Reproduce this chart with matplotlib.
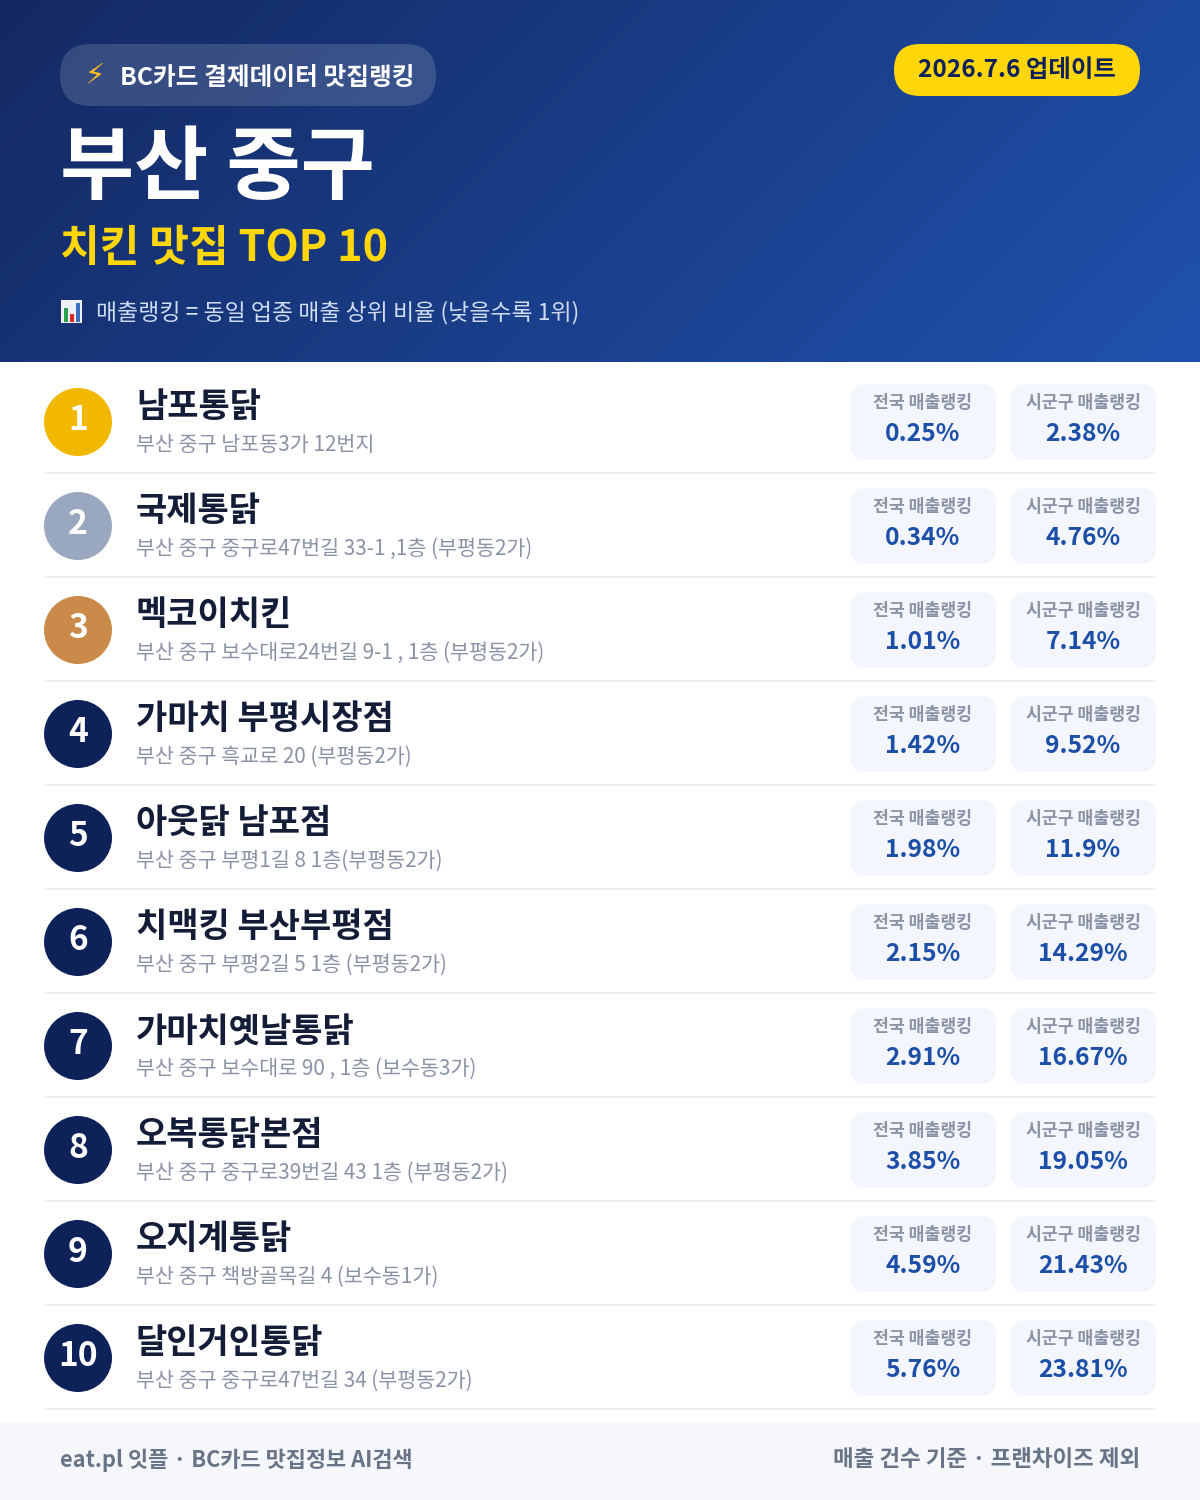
#!/usr/bin/env python3
# -*- coding: utf-8 -*-
import numpy as np
import matplotlib
matplotlib.use('Agg')
import matplotlib.pyplot as plt
from matplotlib.patches import FancyBboxPatch, Circle, Rectangle

plt.rcParams['font.family'] = ['Noto Sans CJK KR', 'DejaVu Sans']

ranks = list(range(1, 11))
names = ['남포통닭', '국제통닭', '멕코이치킨', '가마치 부평시장점', '아웃닭 남포점',
         '치맥킹 부산부평점', '가마치옛날통닭', '오복통닭본점', '오지계통닭', '달인거인통닭']
addresses = ['부산 중구 남포동3가 12번지',
             '부산 중구 중구로47번길 33-1 ,1층 (부평동2가)',
             '부산 중구 보수대로24번길 9-1 , 1층 (부평동2가)',
             '부산 중구 흑교로 20 (부평동2가)',
             '부산 중구 부평1길 8 1층(부평동2가)',
             '부산 중구 부평2길 5 1층 (부평동2가)',
             '부산 중구 보수대로 90 , 1층 (보수동3가)',
             '부산 중구 중구로39번길 43 1층 (부평동2가)',
             '부산 중구 책방골목길 4 (보수동1가)',
             '부산 중구 중구로47번길 34 (부평동2가)']
national = ['0.25%', '0.34%', '1.01%', '1.42%', '1.98%', '2.15%', '2.91%', '3.85%', '4.59%', '5.76%']
district = ['2.38%', '4.76%', '7.14%', '9.52%', '11.9%', '14.29%', '16.67%', '19.05%', '21.43%', '23.81%']

NAVY = '#0f2159'
BLUE = '#1e4fa8'
YELLOW = '#ffd60a'
medal = {1: '#f2b800', 2: '#9aa8bf', 3: '#c98a4a'}


def px(size):
    # font size given in image pixels
    return size * 0.72


def rounded(ax, x, y, w, h, r, **kw):
    p = FancyBboxPatch((x + r, y + r), w - 2 * r, h - 2 * r,
                       boxstyle=f'round,pad={r},rounding_size={r}', lw=0, **kw)
    ax.add_patch(p)
    return p


fig = plt.figure(figsize=(12, 15), dpi=100, facecolor='white')
ax = fig.add_axes([0, 0, 1, 1])
ax.set_xlim(0, 1200)
ax.set_ylim(1500, 0)
ax.axis('off')

# header gradient
gx, gy = np.meshgrid(np.linspace(0, 1, 300), np.linspace(0, 1, 90))
t = gx * 0.77 + gy * 0.23
c0 = np.array([0x14, 0x29, 0x62]) / 255
c1 = np.array([0x1f, 0x52, 0xae]) / 255
grad = c0[None, None, :] + t[:, :, None] * (c1 - c0)[None, None, :]
ax.imshow(grad, extent=(0, 1200, 362, 0), aspect='auto', interpolation='bilinear', zorder=0)
ax.set_xlim(0, 1200)
ax.set_ylim(1500, 0)

# header pills
rounded(ax, 60, 44, 376, 62, 31, facecolor='white', alpha=0.15, zorder=1)
ax.text(95, 76, '⚡', fontsize=px(29), color='#ffbf24', ha='center', va='center',
        family='DejaVu Sans', zorder=2)
ax.text(120, 78, 'BC카드 결제데이터 맛집랭킹', fontsize=px(24.7), color='white',
        fontweight='bold', ha='left', va='center', zorder=2)
rounded(ax, 894, 44, 246, 52, 26, facecolor=YELLOW, zorder=1)
ax.text(1017, 70, '2026.7.6 업데이트', fontsize=px(24.4), color=NAVY,
        fontweight='bold', ha='center', va='center', zorder=2)

ax.text(60, 169, '부산 중구', fontsize=px(80.6), color='white', fontweight='bold',
        ha='left', va='center', zorder=2)
ax.text(60, 248, '치킨 맛집 TOP 10', fontsize=px(43.2), color=YELLOW, fontweight='bold',
        ha='left', va='center', zorder=2)

# little bar chart icon next to the note
ax.add_patch(Rectangle((61, 300), 21, 23, facecolor='#eef2f6', lw=0, zorder=2))
ax.add_patch(Rectangle((64, 308), 4, 14, facecolor='#2e9e4f', lw=0, zorder=3))
ax.add_patch(Rectangle((70, 314), 4, 8, facecolor='#d8262c', lw=0, zorder=3))
ax.add_patch(Rectangle((76, 303), 4, 19, facecolor='#3a6fc0', lw=0, zorder=3))
ax.text(96, 313, '매출랭킹 = 동일 업종 매출 상위 비율 (낮을수록 1위)', fontsize=px(22.9),
        color='#cfdcf3', ha='left', va='center', zorder=2)

# ranking rows
ROW_H = 104
for i, rank in enumerate(ranks):
    top = 370 + i * ROW_H
    ax.add_patch(Circle((78, top + 52), 34, facecolor=medal.get(rank, NAVY), lw=0, zorder=2))
    ax.text(78, top + 51, str(rank), fontsize=px(33.5), color='white', fontweight='bold',
            ha='center', va='center', zorder=3)
    ax.text(136, top + 37, names[i], fontsize=px(34), color='#141d38', fontweight='bold',
            ha='left', va='center', zorder=2)
    ax.text(136, top + 75, addresses[i], fontsize=px(20.7), color='#8a93a6',
            ha='left', va='center', zorder=2)

    for bx, label, val in ((850, '전국 매출랭킹', national[i]), (1010, '시군구 매출랭킹', district[i])):
        rounded(ax, bx, top + 14, 146, 76, 16, facecolor='#f3f6fc', zorder=1)
        ax.text(bx + 73, top + 33, label, fontsize=px(17.2), color='#8a93a6',
                fontweight='bold', ha='center', va='center', zorder=2)
        ax.text(bx + 73, top + 64, val, fontsize=px(24.6), color=BLUE, fontweight='bold',
                ha='center', va='center', zorder=2)

    ax.add_patch(Rectangle((44, top + 102), 1112, 2, facecolor='#eceef1', lw=0, zorder=1))

# footer
ax.add_patch(Rectangle((0, 1422), 1200, 78, facecolor='#f5f7fb', lw=0, zorder=1))
ax.text(60, 1460, 'eat.pl 잇플 · BC카드 맛집정보 AI검색', fontsize=px(21.9), color='#687487',
        fontweight='bold', ha='left', va='center', zorder=2)
ax.text(1140, 1460, '매출 건수 기준 · 프랜차이즈 제외', fontsize=px(22.5), color='#687487',
        fontweight='bold', ha='right', va='center', zorder=2)

fig.savefig('out.png', dpi=100)
